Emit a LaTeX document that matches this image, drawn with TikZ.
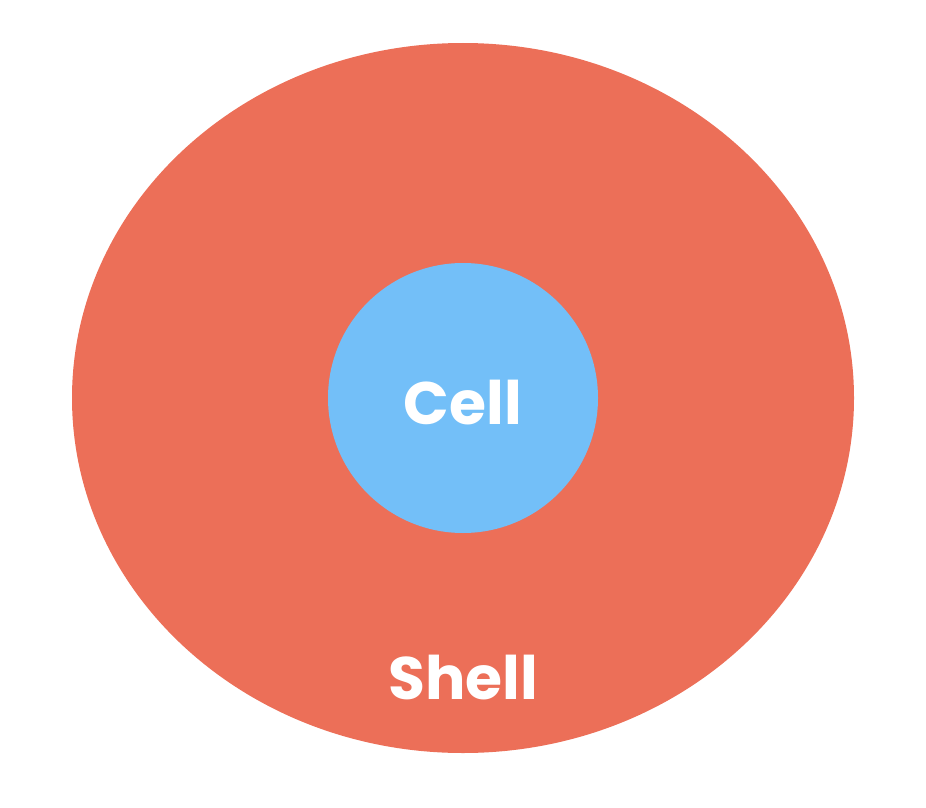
\documentclass[tikz,border=0pt]{standalone}
\usepackage{fontspec}
\setmainfont{Poppins}
\definecolor{shellc}{HTML}{EC6F58}
\definecolor{cellc}{HTML}{73BFF8}
\begin{document}
\begin{tikzpicture}[x=1pt,y=-1pt,
  lbl/.style={text=white,font=\fontsize{60}{60}\selectfont\bfseries,inner sep=0pt,anchor=base}]
\useasboundingbox (0,0) rectangle (926,808);
\fill[shellc] (463,398) ellipse [x radius=391, y radius=355];
\node[circle,fill=cellc,minimum size=270pt,inner sep=0pt] (cell) at (463,398) {};
\node[lbl] (celltext) at (463,424) {Cell};
\node[lbl] (shelltext) at (463,699) {Shell};
\end{tikzpicture}
\end{document}
